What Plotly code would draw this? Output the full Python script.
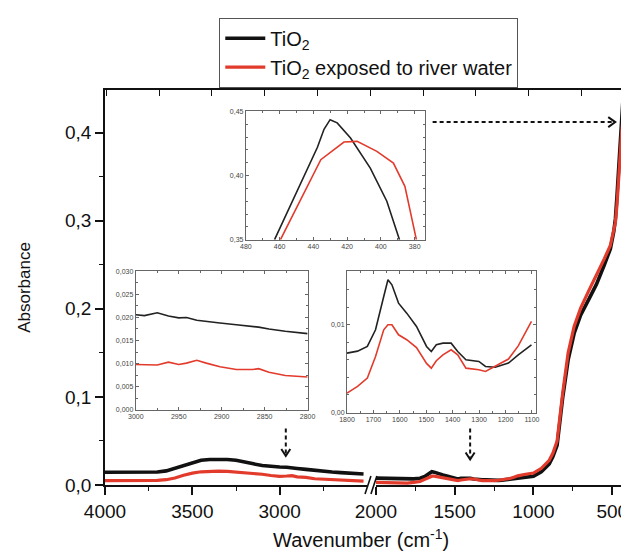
import plotly.graph_objects as go

# ---------------- data ----------------
# main plot, left segment (4000 -> 2500 cm-1)
wn_left = [4000, 3900, 3800, 3700, 3650, 3600, 3550, 3500, 3450, 3400, 3350, 3300,
           3250, 3200, 3150, 3100, 3050, 3000, 2960, 2930, 2900, 2850, 2800, 2750,
           2700, 2650, 2600, 2550, 2520]
tio2_left = [0.0145, 0.0145, 0.0145, 0.0148, 0.016, 0.019, 0.023, 0.026, 0.028, 0.029,
             0.0295, 0.029, 0.028, 0.0265, 0.024, 0.0222, 0.021, 0.0205, 0.0202, 0.0200,
             0.0188, 0.0177, 0.0165, 0.0155, 0.0147, 0.0140, 0.0133, 0.0127, 0.0125]
river_left = [0.0050, 0.0050, 0.0050, 0.0052, 0.0060, 0.0080, 0.0110, 0.0135, 0.0150,
              0.0157, 0.0158, 0.0154, 0.0148, 0.0142, 0.0135, 0.0122, 0.0108, 0.0098,
              0.0102, 0.0107, 0.0093, 0.0087, 0.0071, 0.0065, 0.0060, 0.0055, 0.0050,
              0.0045, 0.0043]

# main plot, right segment (2000 -> 400 cm-1)
wn_right = [2000, 1900, 1800, 1760, 1720, 1690, 1660, 1645, 1630, 1600, 1575, 1550,
            1525, 1500, 1480, 1460, 1440, 1420, 1400, 1380, 1350, 1325, 1300, 1275,
            1250, 1225, 1200, 1175, 1150, 1125, 1100, 1050, 1000, 950, 900, 877, 850,
            814, 780, 742, 700, 648, 600, 550, 512, 490, 480, 470, 460, 450, 440, 430,
            420, 414, 405, 400]
tio2_right = [0.0078, 0.0074, 0.0068, 0.0070, 0.0076, 0.0096, 0.0133, 0.0151, 0.0146,
              0.0123, 0.0113, 0.0103, 0.0090, 0.0075, 0.0069, 0.0077, 0.0079, 0.0079,
              0.0077, 0.0069, 0.0060, 0.0059, 0.0058, 0.0053, 0.0052, 0.0052, 0.0055,
              0.0060, 0.0066, 0.0072, 0.0077, 0.0088, 0.0100, 0.015, 0.024, 0.032, 0.045,
              0.100, 0.142, 0.172, 0.193, 0.211, 0.228, 0.250, 0.268, 0.288, 0.302, 0.328,
              0.356, 0.385, 0.424, 0.4435, 0.4325, 0.423, 0.404, 0.392]
river_right = [0.0030, 0.0026, 0.0022, 0.0030, 0.0039, 0.0064, 0.0094, 0.0100, 0.0100,
               0.0089, 0.0084, 0.0079, 0.0068, 0.0058, 0.0051, 0.0057, 0.0064, 0.0068,
               0.0071, 0.0068, 0.0053, 0.0049, 0.0049, 0.0047, 0.0050, 0.0054, 0.0058,
               0.0062, 0.0074, 0.0088, 0.0104, 0.0122, 0.0136, 0.019, 0.028, 0.036, 0.050,
               0.105, 0.150, 0.180, 0.201, 0.221, 0.238, 0.257, 0.272, 0.288, 0.298, 0.318,
               0.349, 0.375, 0.401, 0.419, 0.4262, 0.4266, 0.421, 0.417]

# inset 1 (480 -> 374 cm-1)
in1_wn_tio2 = [463, 453.2, 445.4, 437.6, 433.7, 430.1, 425.9, 418.0, 406.3, 396.5, 389.0]
in1_tio2 = [0.350, 0.378, 0.400, 0.422, 0.436, 0.4435, 0.441, 0.4292, 0.4058, 0.380, 0.350]
in1_wn_river = [459.5, 447, 435.6, 427, 421.9, 414.1, 402.4, 392.6, 385.8, 379]
in1_river = [0.350, 0.382, 0.4123, 0.421, 0.4261, 0.4266, 0.4188, 0.4097, 0.3916, 0.350]

# inset 2 (3000 -> 2800 cm-1)
in2_wn = [3000, 2990, 2975, 2962, 2950, 2941, 2929, 2918, 2902, 2883, 2864, 2857,
          2845, 2826, 2800]
in2_tio2 = [0.0206, 0.0204, 0.0210, 0.0203, 0.0199, 0.0200, 0.0194, 0.0191, 0.0188,
            0.0184, 0.0181, 0.0179, 0.0175, 0.0170, 0.0165]
in2_river = [0.0098, 0.0097, 0.0097, 0.0103, 0.0098, 0.0101, 0.0107, 0.0101, 0.0093,
             0.0087, 0.0087, 0.0089, 0.0081, 0.0074, 0.0071]

# inset 3 (1800 -> 1090 cm-1)
in3_wn = [1800, 1760, 1723, 1692, 1661, 1645, 1630, 1605, 1574, 1537, 1499, 1481, 1462,
          1437, 1406, 1381, 1350, 1301, 1276, 1239, 1189, 1152, 1102]
in3_tio2 = [0.00677, 0.00700, 0.00753, 0.00943, 0.01323, 0.01513, 0.01456, 0.01247,
            0.01133, 0.00981, 0.00753, 0.00696, 0.00772, 0.00791, 0.00791, 0.00696,
            0.00601, 0.00582, 0.00525, 0.00517, 0.00563, 0.00658, 0.00772]
in3_river = [0.00221, 0.00297, 0.00392, 0.00639, 0.00943, 0.01000, 0.01000, 0.00886,
             0.00830, 0.00740, 0.00560, 0.00506, 0.00590, 0.00658, 0.00715, 0.00658,
             0.00506, 0.00487, 0.00468, 0.00530, 0.00610, 0.00760, 0.01038]

names = ["TiO<sub>2</sub>", "TiO<sub>2</sub> exposed to river water"]
main_ticks_left = [4000, 3500, 3000]
main_minor_left = [3750, 3250, 2750]
main_ticks_right = [2000, 1500, 1000, 500]
main_minor_right = [1750, 1250, 750]

# ---------------- figure ----------------
BLACK = "#111111"
RED = "#e23b2c"
FONT = "Liberation Sans, Arial, sans-serif"

fig = go.Figure()

# main traces
fig.add_trace(go.Scatter(x=wn_left, y=tio2_left, xaxis="x", yaxis="y", mode="lines",
                         line=dict(color=BLACK, width=3.6), name=names[0]))
fig.add_trace(go.Scatter(x=wn_left, y=river_left, xaxis="x", yaxis="y", mode="lines",
                         line=dict(color=RED, width=3.2), name=names[1]))
fig.add_trace(go.Scatter(x=wn_right, y=tio2_right, xaxis="x2", yaxis="y", mode="lines",
                         line=dict(color=BLACK, width=3.6), showlegend=False))
fig.add_trace(go.Scatter(x=wn_right, y=river_right, xaxis="x2", yaxis="y", mode="lines",
                         line=dict(color=RED, width=3.2), showlegend=False))

# invisible helpers so the frame axes (top edge, right edge) get drawn
fig.add_trace(go.Scatter(x=[5], y=[0.2], xaxis="x3", yaxis="y", mode="markers",
                         marker=dict(size=1, opacity=0), showlegend=False, hoverinfo="skip"))
fig.add_trace(go.Scatter(x=[1000], y=[2], xaxis="x2", yaxis="y2", mode="markers",
                         marker=dict(size=1, opacity=0), showlegend=False, hoverinfo="skip"))

# insets
fig.add_trace(go.Scatter(x=in1_wn_tio2, y=in1_tio2, xaxis="x4", yaxis="y3", mode="lines",
                         line=dict(color="#222222", width=1.6), showlegend=False))
fig.add_trace(go.Scatter(x=in1_wn_river, y=in1_river, xaxis="x4", yaxis="y3", mode="lines",
                         line=dict(color=RED, width=1.6), showlegend=False))
fig.add_trace(go.Scatter(x=in2_wn, y=in2_tio2, xaxis="x5", yaxis="y4", mode="lines",
                         line=dict(color="#222222", width=1.6), showlegend=False))
fig.add_trace(go.Scatter(x=in2_wn, y=in2_river, xaxis="x5", yaxis="y4", mode="lines",
                         line=dict(color=RED, width=1.6), showlegend=False))
fig.add_trace(go.Scatter(x=in3_wn, y=in3_tio2, xaxis="x6", yaxis="y5", mode="lines",
                         line=dict(color="#222222", width=1.6), showlegend=False))
fig.add_trace(go.Scatter(x=in3_wn, y=in3_river, xaxis="x6", yaxis="y5", mode="lines",
                         line=dict(color=RED, width=1.6), showlegend=False))

tickfont_main = dict(family=FONT, size=19, color="#111")
axline = dict(showline=True, linecolor=BLACK, linewidth=1.6, showgrid=False, zeroline=False)

inset_font = dict(family=FONT, size=7, color="#444")
inset_ax = dict(showline=True, linecolor="#666", linewidth=1, mirror="ticks", showgrid=False,
                zeroline=False, ticks="inside", ticklen=3, tickcolor="#666",
                tickfont=inset_font)

fig.update_layout(
    width=629, height=557,
    margin=dict(l=97, r=1, t=82, b=80),
    paper_bgcolor="white", plot_bgcolor="rgba(0,0,0,0)",
    separators=",.",
    font=dict(family=FONT, color="#111"),
    showlegend=True,
    legend=dict(x=0.2185, y=1.183, xanchor="left", yanchor="top",
                bgcolor="white", bordercolor="#555", borderwidth=1,
                font=dict(family=FONT, size=20, color="#111"),
                tracegroupgap=0, itemwidth=40),
    xaxis=dict(domain=[0, 0.501], range=[4000, 2500], anchor="y",
               tickvals=main_ticks_left, ticks="outside", ticklen=8, tickwidth=1.6,
               tickcolor=BLACK, tickfont=tickfont_main,
               minor=dict(tickvals=main_minor_left, ticks="outside", ticklen=4,
                          tickwidth=1.4, tickcolor=BLACK),
               **axline),
    xaxis2=dict(domain=[0.518, 1], range=[2000, 400], anchor="y",
                tickvals=main_ticks_right, ticks="outside", ticklen=8, tickwidth=1.6,
                tickcolor=BLACK, tickfont=tickfont_main,
                minor=dict(tickvals=main_minor_right, ticks="outside", ticklen=4,
                           tickwidth=1.4, tickcolor=BLACK),
                **axline),
    xaxis3=dict(domain=[0, 1], range=[0, 9.907], anchor="y", side="top",
                tick0=0.026, dtick=1, ticks="inside", ticklen=6, tickwidth=1.4,
                tickcolor=BLACK, showticklabels=False, **axline),
    yaxis=dict(domain=[0, 1], range=[0, 0.4484], anchor="x",
               tickvals=[0, 0.1, 0.2, 0.3, 0.4], tickformat=".1f",
               ticks="outside", ticklen=8, tickwidth=1.6, tickcolor=BLACK,
               tickfont=tickfont_main,
               minor=dict(tickvals=[0.05, 0.15, 0.25, 0.35], ticks="outside", ticklen=4,
                          tickwidth=1.4, tickcolor=BLACK),
               title=dict(text="Absorbance", font=dict(family=FONT, size=17, color="#111"),
                          standoff=30),
               **axline),
    yaxis2=dict(overlaying="y", anchor="x2", side="right", range=[0, 5.064],
                tick0=0.038, dtick=1, ticks="inside", ticklen=5, tickwidth=1.4,
                tickcolor=BLACK, showticklabels=False, showline=False,
                showgrid=False, zeroline=False),
    # inset 1
    xaxis4=dict(domain=[0.2693, 0.6115], range=[480, 374], anchor="y3", dtick=20, tick0=0,
                minor=dict(dtick=10, ticks="inside", ticklen=2, tickcolor="#666"),
                **inset_ax),
    yaxis3=dict(domain=[0.621, 0.946], range=[0.35, 0.45], anchor="x4", dtick=0.05,
                tick0=0, tickformat=".2f",
                minor=dict(dtick=0.01, ticks="inside", ticklen=2, tickcolor="#666"),
                **inset_ax),
    # inset 2
    xaxis5=dict(domain=[0.0589, 0.3874], range=[3000, 2800], anchor="y4", dtick=50, tick0=0,
                minor=dict(dtick=25, ticks="inside", ticklen=2, tickcolor="#666"),
                **inset_ax),
    yaxis4=dict(domain=[0.1906, 0.541], range=[0, 0.030], anchor="x5", dtick=0.005,
                tick0=0, tickformat=".3f",
                minor=dict(dtick=0.0025, ticks="inside", ticklen=2, tickcolor="#666"),
                **inset_ax),
    # inset 3
    xaxis6=dict(domain=[0.4627, 0.8235], range=[1800, 1086], anchor="y5", dtick=100, tick0=0,
                minor=dict(dtick=50, ticks="inside", ticklen=2, tickcolor="#666"),
                **inset_ax),
    yaxis5=dict(domain=[0.1835, 0.541], range=[0, 0.0161], anchor="x6", dtick=0.01,
                tick0=0, tickformat=".2f",
                minor=dict(dtick=0.002, ticks="inside", ticklen=2, tickcolor="#666"),
                **inset_ax),
)

# x-axis title (spans both broken segments)
fig.add_annotation(text="Wavenumber (cm<sup>-1</sup>)", xref="paper", yref="paper",
                   x=0.49, y=-0.172, xanchor="center", yanchor="bottom", showarrow=False,
                   font=dict(family=FONT, size=20, color="#111"))

# axis-break marks
for (bx0, bx1) in [(0.4972, 0.5085), (0.5085, 0.5198)]:
    fig.add_shape(type="line", xref="paper", yref="paper", x0=bx0, y0=-0.0228,
                  x1=bx1, y1=0.0228, line=dict(color=BLACK, width=1.6))

# dashed arrows pointing from insets to spectral regions
dash = "4px,3px"
arrow_line = dict(color=BLACK, width=2, dash=dash)
head_line = dict(color=BLACK, width=2)
# horizontal arrow -> main band
fig.add_shape(type="line", xref="x2", yref="y", x0=1640, x1=484, y0=0.412, y1=0.412,
              line=arrow_line)
fig.add_shape(type="path", xref="x2", yref="y", xsizemode="pixel", ysizemode="pixel",
              xanchor=481, yanchor=0.412, path="M -7,5 L 0,0 L -7,-5", line=head_line)
# vertical arrow -> 3000-2800 region
fig.add_shape(type="line", xref="x", yref="y", x0=2965, x1=2965, y0=0.064, y1=0.035,
              line=arrow_line)
fig.add_shape(type="path", xref="x", yref="y", xsizemode="pixel", ysizemode="pixel",
              xanchor=2965, yanchor=0.033, path="M -4.5,7 L 0,0 L 4.5,7", line=head_line)
# vertical arrow -> 1800-1100 region
fig.add_shape(type="line", xref="x2", yref="y", x0=1402, x1=1402, y0=0.064, y1=0.031,
              line=arrow_line)
fig.add_shape(type="path", xref="x2", yref="y", xsizemode="pixel", ysizemode="pixel",
              xanchor=1402, yanchor=0.029, path="M -4.5,7 L 0,0 L 4.5,7", line=head_line)

fig.write_html("out.html")
